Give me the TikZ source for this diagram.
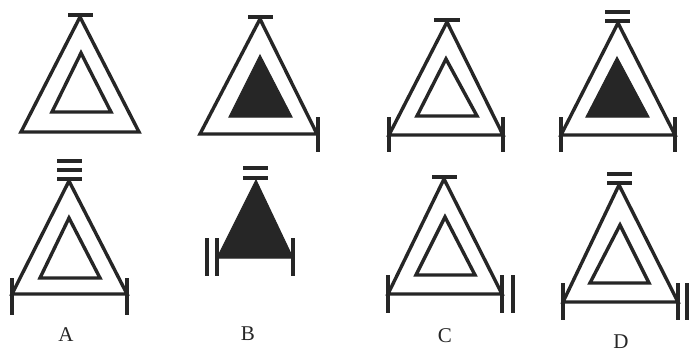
\documentclass[tikz,border=0pt]{standalone}
\usepackage{fontspec}
\setmainfont{Liberation Serif}
\definecolor{ink}{HTML}{262626}
\begin{document}
\begin{tikzpicture}[x=1pt,y=-1pt,
  stroke/.style={draw=ink,line width=3.4pt,line join=miter},
  solid tri/.style={fill=ink,draw=ink,line width=1pt,line join=miter},
  tick/.style={draw=ink,line width=3.4pt},
  lbl/.style={font=\fontsize{21}{21}\selectfont,text=ink,inner sep=0pt}]
\useasboundingbox[fill=white] (0,0) rectangle (689,354);

% ---------- top row ----------
% A
\draw[tick] (68,15) -- (93,15);
\draw[stroke] (80,17) -- (21,132) -- (139,132) -- cycle;
\draw[stroke] (81,53) -- (52,112) -- (111,112) -- cycle;
% B
\draw[tick] (248,17) -- (273,17);
\draw[stroke] (260,19) -- (200,134) -- (317,134) -- cycle;
\draw[tick] (318,117) -- (318,152);
\draw[solid tri] (260,55) -- (229,117) -- (292,117) -- cycle;
% C
\draw[tick] (434,20) -- (460,20);
\draw[stroke] (447,22) -- (389,135) -- (503,135) -- cycle;
\draw[tick] (389,117) -- (389,152);
\draw[tick] (503,117) -- (503,152);
\draw[stroke] (446,59) -- (417,116) -- (477,116) -- cycle;
% D
\draw[tick] (605,12) -- (630,12);
\draw[tick] (605,21) -- (630,21);
\draw[stroke] (618,23) -- (561,135) -- (675,135) -- cycle;
\draw[tick] (561,117) -- (561,152);
\draw[tick] (675,117) -- (675,152);
\draw[solid tri] (617,57) -- (586,117) -- (649,117) -- cycle;

% ---------- bottom row ----------
% A
\draw[tick] (57,161) -- (82,161);
\draw[tick] (57,170) -- (82,170);
\draw[tick] (57,179) -- (82,179);
\draw[stroke] (69,181) -- (12,294) -- (127,294) -- cycle;
\draw[tick] (12,278) -- (12,315);
\draw[tick] (127,278) -- (127,315);
\draw[stroke] (69,218) -- (40,278) -- (100,278) -- cycle;
% B
\draw[tick] (243,168) -- (268,168);
\draw[tick] (243,178) -- (268,178);
\draw[solid tri] (256,180) -- (217,258) -- (293,258) -- cycle;
\draw[tick] (207,238) -- (207,276);
\draw[tick] (217,238) -- (217,276);
\draw[tick] (293,238) -- (293,276);
% C
\draw[tick] (432,177) -- (457,177);
\draw[stroke] (444,179) -- (388,294) -- (502,294) -- cycle;
\draw[tick] (388,275) -- (388,313);
\draw[tick] (502,275) -- (502,313);
\draw[tick] (513,275) -- (513,313);
\draw[stroke] (445,217) -- (416,275) -- (475,275) -- cycle;
% D
\draw[tick] (607,174) -- (632,174);
\draw[tick] (607,183) -- (632,183);
\draw[stroke] (619,185) -- (563,302) -- (678,302) -- cycle;
\draw[tick] (563,283) -- (563,320);
\draw[tick] (678,283) -- (678,320);
\draw[tick] (687,283) -- (687,320);
\draw[stroke] (620,225) -- (590,283) -- (649,283) -- cycle;

% ---------- labels ----------
\node[lbl] (la) at (66,335) {A};
\node[lbl] (lb) at (248,334) {B};
\node[lbl] (lc) at (445,336) {C};
\node[lbl] (ld) at (621,342) {D};
\end{tikzpicture}
\end{document}
